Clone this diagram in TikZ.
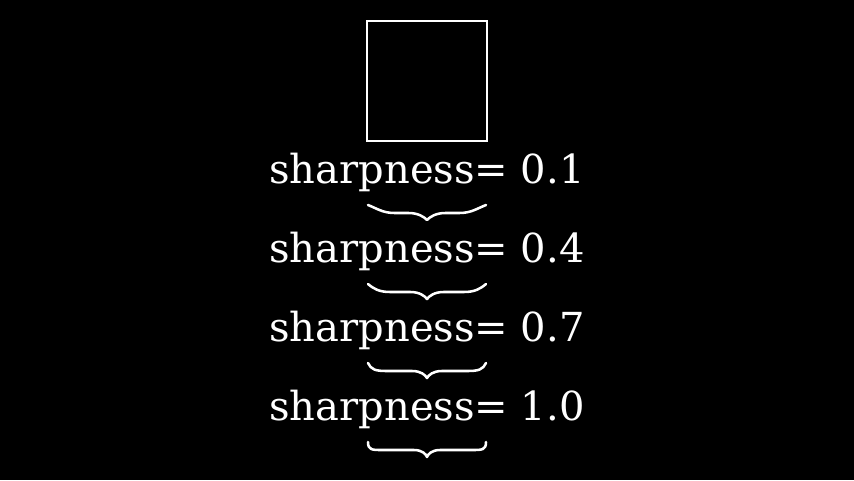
\documentclass[tikz,border=0pt]{standalone}
\usepackage{fontspec}
\setmainfont{DejaVu Serif}
\newcommand\mybrace[2]{%
\draw[bracestyle] (368,#2)
 .. controls ({368+10*(1-#1)},{#2+3+5*#1}) and ({372+12*(1-#1)},{#2+8}) .. ({382+14*(1-#1)},{#2+8})
 -- ({414-6*(1-#1)},{#2+8})
 .. controls ({422-4*(1-#1)},{#2+8}) and ({426-2*(1-#1)},{#2+12}) .. (427,{#2+15})
 .. controls ({854-426+2*(1-#1)},{#2+12}) and ({854-422+4*(1-#1)},{#2+8}) .. ({854-414+6*(1-#1)},{#2+8})
 -- ({854-382-14*(1-#1)},{#2+8})
 .. controls ({854-372-12*(1-#1)},{#2+8}) and ({854-368-10*(1-#1)},{#2+3+5*#1}) .. (486,#2);}
\begin{document}
\begin{tikzpicture}[x={(0.75pt,0)},y={(0,-0.75pt)},
  bracestyle/.style={white,line width=1.9pt,line cap=round,line join=round},
  lbl/.style={text=white,font=\fontsize{30}{34}\selectfont,anchor=base,inner sep=0pt}]
\fill[black] (0,0) rectangle (854,480);
\useasboundingbox (0,0) rectangle (854,480);
\node[draw=white,line width=1.5pt,minimum width=90pt,minimum height=90pt,inner sep=0pt] (sq) at (427,81) {};
\node[lbl] (t1) at (427,183) {sharpness= 0.1};
\node[lbl] (t2) at (427,262) {sharpness= 0.4};
\node[lbl] (t3) at (427,341) {sharpness= 0.7};
\node[lbl] (t4) at (427,420) {sharpness= 1.0};
\mybrace{0.1}{205}
\mybrace{0.4}{284}
\mybrace{0.7}{363}
\mybrace{1.0}{442}
\end{tikzpicture}
\end{document}
